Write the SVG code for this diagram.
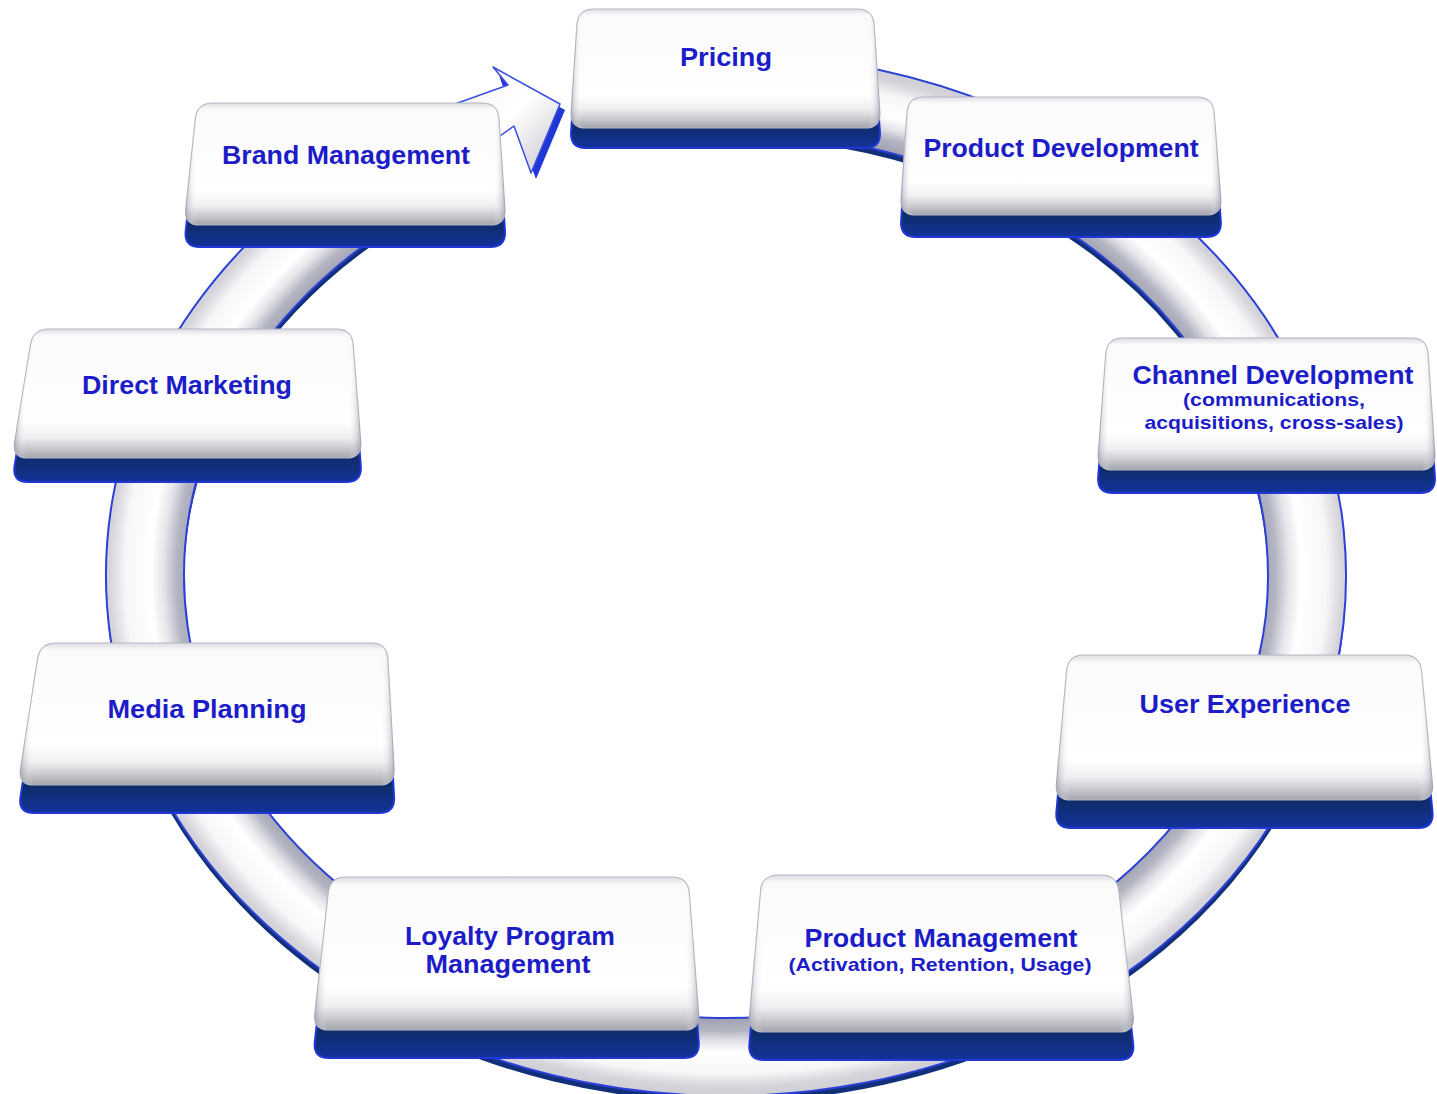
<svg xmlns="http://www.w3.org/2000/svg" xmlns:xlink="http://www.w3.org/1999/xlink" width="1437" height="1094" viewBox="0 0 1437 1094">
  <style>
    .lbl { font-family: "Liberation Sans", Arial, sans-serif; font-weight: bold; fill: #1c1cc8; text-anchor: middle; font-size: 25px; }
    .sub { font-size: 19px; }
    .side { fill: url(#sideGrad); stroke: #2036d6; stroke-width: 2; }
    .face { fill: url(#faceGrad); stroke: #b4b6c4; stroke-width: 1.2; }
    .shade { fill: url(#edgeGrad); stroke: none; }
    .band { fill: none; }
  </style>
  <defs>
    <!-- top face: light bevel at the top, grey bevel at the bottom -->
    <linearGradient id="faceGrad" x1="0" y1="0" x2="0" y2="1">
      <stop offset="0" stop-color="#dcdce2"/>
      <stop offset="0.05" stop-color="#fafafb"/>
      <stop offset="0.72" stop-color="#ffffff"/>
      <stop offset="0.84" stop-color="#f0f0f3"/>
      <stop offset="0.93" stop-color="#c6c6cc"/>
      <stop offset="1" stop-color="#a4a4ac"/>
    </linearGradient>
    <linearGradient id="edgeGrad" x1="0" y1="0" x2="1" y2="0">
      <stop offset="0" stop-color="#9090a0" stop-opacity="0.55"/>
      <stop offset="0.035" stop-color="#ffffff" stop-opacity="0"/>
      <stop offset="0.965" stop-color="#ffffff" stop-opacity="0"/>
      <stop offset="1" stop-color="#9090a0" stop-opacity="0.6"/>
    </linearGradient>
    <!-- dark slab under each face -->
    <linearGradient id="sideGrad" x1="0" y1="0" x2="0" y2="1">
      <stop offset="0" stop-color="#1c3a9c"/>
      <stop offset="0.8" stop-color="#0e2c68"/>
      <stop offset="1" stop-color="#12339a"/>
    </linearGradient>
    <!-- cross-section shading of the circular band -->
    <radialGradient id="ringGrad" gradientUnits="userSpaceOnUse" cx="0" cy="0" r="1.1" gradientTransform="translate(726 575) scale(581 482)">
      <stop offset="0.84" stop-color="#a2a4b4"/>
      <stop offset="0.86" stop-color="#b4b5c2"/>
      <stop offset="0.88" stop-color="#e4e4ea"/>
      <stop offset="0.90" stop-color="#ffffff"/>
      <stop offset="0.94" stop-color="#f7f7f9"/>
      <stop offset="0.965" stop-color="#d4d4da"/>
      <stop offset="1" stop-color="#c8c8d0"/>
    </radialGradient>
    <linearGradient id="arrowGrad" x1="0" y1="0" x2="1" y2="1">
      <stop offset="0" stop-color="#f4f4f6"/>
      <stop offset="0.5" stop-color="#ffffff"/>
      <stop offset="1" stop-color="#c4c4cc"/>
    </linearGradient>

    <path id="ringPath" d="M726 93 A581 482 0 1 1 470 142.3"/>

    <!-- node outlines (slightly tapered for perspective) -->
    <path id="s-pricing" d="M594 9 L857 9 Q873 9 874.1 25 L879.9 112 Q881 128 865 128 L586 128 Q570 128 571.1 112 L576.9 25 Q578 9 594 9 Z"/>
    <path id="s-brand" d="M213 103 L482 103 Q498 103 499 119 L505 209 Q506 225 490 225 L200 225 Q184 225 185.7 209 L195.3 119 Q197 103 213 103 Z"/>
    <path id="s-proddev" d="M924 97 L1197 97 Q1213 97 1214.2 113 L1220.8 199 Q1222 215 1206 215 L916 215 Q900 215 901.1 199 L906.9 113 Q908 97 924 97 Z"/>
    <path id="s-channel" d="M1123 338 L1411 338 Q1427 338 1428.1 354 L1434.9 454 Q1436 470 1420 470 L1113 470 Q1097 470 1098.2 454 L1105.8 354 Q1107 338 1123 338 Z"/>
    <path id="s-direct" d="M49 329 L336 329 Q352 329 353.2 345 L360.8 442 Q362 458 346 458 L28 458 Q12 458 14.6 442 L30.4 345 Q33 329 49 329 Z"/>
    <path id="s-media" d="M56 643 L371 643 Q387 643 387.9 659 L394.1 769 Q395 785 379 785 L34 785 Q18 785 20.5 769 L37.5 659 Q40 643 56 643 Z"/>
    <path id="s-userexp" d="M1084 655 L1404 655 Q1420 655 1421.5 671 L1432.5 784 Q1434 800 1418 800 L1071 800 Q1055 800 1056.4 784 L1066.6 671 Q1068 655 1084 655 Z"/>
    <path id="s-loyalty" d="M346 877 L672 877 Q688 877 689.3 893 L698.7 1014 Q700 1030 684 1030 L329 1030 Q313 1030 314.8 1014 L328.2 893 Q330 877 346 877 Z"/>
    <path id="s-prodmgmt" d="M778 875 L1101 875 Q1117 875 1118.8 891 L1133.2 1016 Q1135 1032 1119 1032 L764 1032 Q748 1032 749.4 1016 L760.6 891 Q762 875 778 875 Z"/>
  </defs>

  <rect width="1437" height="1094" fill="#ffffff"/>

  <!-- circular flow band ending in an arrowhead at Pricing -->
  <g id="connectors">
    <use xlink:href="#ringPath" class="band" stroke="#12307a" stroke-width="78" transform="translate(0 6)"/>
    <use xlink:href="#ringPath" class="band" stroke="#2c40d8" stroke-width="80"/>
    <use xlink:href="#ringPath" class="band" stroke="url(#ringGrad)" stroke-width="76"/>
    <polygon points="498,72 565,110 536,179 518,131" fill="#2036d6"/>
    <polygon points="455,104 508,85 493,67 560,104 531,173 514,126 480,150 455,150" fill="url(#arrowGrad)" stroke="#3a4ee0" stroke-width="1.5" stroke-linejoin="round"/>
  </g>

  <g id="node-pricing">
    <use xlink:href="#s-pricing" class="side" transform="translate(0 20)"/>
    <use xlink:href="#s-pricing" class="face"/>
    <use xlink:href="#s-pricing" class="shade"/>
    <text class="lbl" x="726" y="66" textLength="92" lengthAdjust="spacingAndGlyphs">Pricing</text>
  </g>

  <g id="node-brand">
    <use xlink:href="#s-brand" class="side" transform="translate(0 22)"/>
    <use xlink:href="#s-brand" class="face"/>
    <use xlink:href="#s-brand" class="shade"/>
    <text class="lbl" x="346" y="164" textLength="248" lengthAdjust="spacingAndGlyphs">Brand Management</text>
  </g>

  <g id="node-product-development">
    <use xlink:href="#s-proddev" class="side" transform="translate(0 22)"/>
    <use xlink:href="#s-proddev" class="face"/>
    <use xlink:href="#s-proddev" class="shade"/>
    <text class="lbl" x="1061" y="157" textLength="275" lengthAdjust="spacingAndGlyphs">Product Development</text>
  </g>

  <g id="node-channel-development">
    <use xlink:href="#s-channel" class="side" transform="translate(0 23)"/>
    <use xlink:href="#s-channel" class="face"/>
    <use xlink:href="#s-channel" class="shade"/>
    <text class="lbl" x="1273" y="384" textLength="281" lengthAdjust="spacingAndGlyphs">Channel Development</text>
    <text class="lbl sub" x="1274" y="406" textLength="182" lengthAdjust="spacingAndGlyphs">(communications,</text>
    <text class="lbl sub" x="1274" y="429" textLength="259" lengthAdjust="spacingAndGlyphs">acquisitions, cross-sales)</text>
  </g>

  <g id="node-direct-marketing">
    <use xlink:href="#s-direct" class="side" transform="translate(0 24)"/>
    <use xlink:href="#s-direct" class="face"/>
    <use xlink:href="#s-direct" class="shade"/>
    <text class="lbl" x="187" y="394" textLength="210" lengthAdjust="spacingAndGlyphs">Direct Marketing</text>
  </g>

  <g id="node-media-planning">
    <use xlink:href="#s-media" class="side" transform="translate(0 28)"/>
    <use xlink:href="#s-media" class="face"/>
    <use xlink:href="#s-media" class="shade"/>
    <text class="lbl" x="207" y="718" textLength="199" lengthAdjust="spacingAndGlyphs">Media Planning</text>
  </g>

  <g id="node-user-experience">
    <use xlink:href="#s-userexp" class="side" transform="translate(0 28)"/>
    <use xlink:href="#s-userexp" class="face"/>
    <use xlink:href="#s-userexp" class="shade"/>
    <text class="lbl" x="1245" y="713" textLength="211" lengthAdjust="spacingAndGlyphs">User Experience</text>
  </g>

  <g id="node-loyalty-program">
    <use xlink:href="#s-loyalty" class="side" transform="translate(0 28)"/>
    <use xlink:href="#s-loyalty" class="face"/>
    <use xlink:href="#s-loyalty" class="shade"/>
    <text class="lbl" x="510" y="945" textLength="210" lengthAdjust="spacingAndGlyphs">Loyalty Program</text>
    <text class="lbl" x="508" y="973" textLength="165" lengthAdjust="spacingAndGlyphs">Management</text>
  </g>

  <g id="node-product-management">
    <use xlink:href="#s-prodmgmt" class="side" transform="translate(0 28)"/>
    <use xlink:href="#s-prodmgmt" class="face"/>
    <use xlink:href="#s-prodmgmt" class="shade"/>
    <text class="lbl" x="941" y="947" textLength="273" lengthAdjust="spacingAndGlyphs">Product Management</text>
    <text class="lbl sub" x="940" y="971" textLength="303" lengthAdjust="spacingAndGlyphs">(Activation, Retention, Usage)</text>
  </g>
</svg>
